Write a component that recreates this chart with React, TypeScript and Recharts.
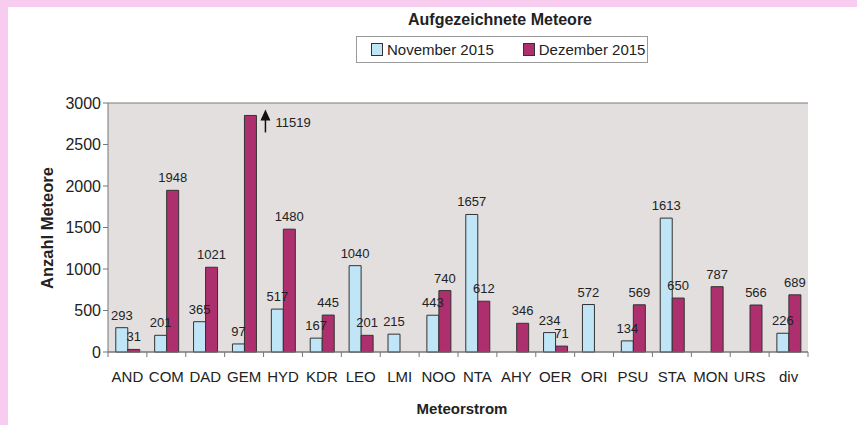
import { BarChart, Bar, XAxis, YAxis, CartesianGrid, LabelList } from 'recharts';

const streams = ['AND', 'COM', 'DAD', 'GEM', 'HYD', 'KDR', 'LEO', 'LMI', 'NOO', 'NTA', 'AHY', 'OER', 'ORI', 'PSU', 'STA', 'MON', 'URS', 'div'];
const november = [293, 201, 365, 97, 517, 167, 1040, 215, 443, 1657, null, 234, 572, 134, 1613, null, null, 226];
const dezember = [31, 1948, 1021, 11519, 1480, 445, 201, null, 740, 612, 346, 71, null, 569, 650, 787, 566, 689];
const yTicks = [0, 500, 1000, 1500, 2000, 2500, 3000];

// GEM is off the scale; the bar is cut just below the top and marked with an arrow
const CAP = 2850;

const data = streams.map((name, i) => ({
  name,
  nov: november[i],
  dez: dezember[i],
  dezShown: dezember[i] == null ? null : Math.min(dezember[i] as number, CAP),
}));

const FONT = '"Liberation Sans", Arial, sans-serif';
const BLUE = '#bfe5f7';
const RED = '#ad2f6e';

const XTick = (props: any) => {
  const { x, y, payload, index } = props;
  const half = payload?.offset || 700 / streams.length / 2;
  return (
    <g>
      <line x1={x - half} y1={y - 8} x2={x - half} y2={y - 3} stroke="#777" />
      {index === streams.length - 1 && (
        <line x1={x + half} y1={y - 8} x2={x + half} y2={y - 3} stroke="#777" />
      )}
      <text x={x} y={y + 22} textAnchor="middle" fontSize={15} fill="#222" fontFamily={FONT}>
        {payload.value}
      </text>
    </g>
  );
};

const NovLabel = (props: any) => {
  const { x, y, width, value } = props;
  if (value == null) return null;
  return (
    <text x={x + width / 2} y={y - 8} textAnchor="middle" fontSize={13} fill="#222" fontFamily={FONT}>
      {value}
    </text>
  );
};

const DezLabel = (props: any) => {
  const { x, y, width, value } = props;
  if (value == null) return null;
  if (value > CAP) {
    const ax = x + width + 9;
    return (
      <g>
        <line x1={ax} y1={y + 2} x2={ax} y2={y + 17} stroke="#111" strokeWidth={1.5} />
        <path d={`M${ax - 5},${y + 5} L${ax},${y - 6} L${ax + 5},${y + 5} Z`} fill="#111" />
        <text x={ax + 10} y={y + 12} fontSize={13} fill="#222" fontFamily={FONT}>
          {value}
        </text>
      </g>
    );
  }
  return (
    <text x={x + width / 2} y={y - 8} textAnchor="middle" fontSize={13} fill="#222" fontFamily={FONT}>
      {value}
    </text>
  );
};

const swatch = (color: string, ml: number) => (
  <span
    style={{
      display: 'inline-block', flexShrink: 0, width: 10, height: 11, background: color,
      border: '1px solid #333', marginLeft: ml, marginRight: 4,
    }}
  />
);

export default function App() {
  return (
    <div style={{ position: 'absolute', left: 0, top: 0, width: 857, height: 425, background: '#f8ccee', overflow: 'hidden' }}>
      <div style={{ position: 'absolute', left: 8, top: 7, right: 0, bottom: 0, background: '#ffffff' }} />
      <div
        style={{
          position: 'absolute', left: 300, top: 11, width: 400, textAlign: 'center',
          fontFamily: FONT, fontWeight: 'bold', fontSize: 16, color: '#222',
        }}
      >
        Aufgezeichnete Meteore
      </div>
      <div
        style={{
          position: 'absolute', left: 356, top: 36, width: 292, height: 27,
          border: '1px solid #999', background: '#fff', display: 'flex', alignItems: 'center',
          fontFamily: FONT, fontSize: 15, color: '#222', boxSizing: 'border-box', whiteSpace: 'nowrap',
        }}
      >
        {swatch(BLUE, 14)}
        <span>November 2015</span>
        {swatch(RED, 29)}
        <span>Dezember 2015</span>
      </div>
      <div
        style={{
          position: 'absolute', left: 47, top: 228, transform: 'translate(-50%, -50%) rotate(-90deg)',
          fontFamily: FONT, fontWeight: 'bold', fontSize: 16.5, color: '#222', whiteSpace: 'nowrap',
        }}
      >
        Anzahl Meteore
      </div>
      <div
        style={{
          position: 'absolute', left: 362, top: 400, width: 200, textAlign: 'center',
          fontFamily: FONT, fontWeight: 'bold', fontSize: 15, color: '#222',
        }}
      >
        Meteorstrom
      </div>
      <div style={{ position: 'absolute', left: 0, top: 0 }}>
        <BarChart
          width={857}
          height={425}
          data={data}
          margin={{ top: 103, right: 49, left: 48, bottom: 43 }}
          barCategoryGap="20%"
          barGap={0}
        >
          <CartesianGrid vertical={false} stroke="#7a7a7a" fill="#e3dfde" />
          <XAxis
            dataKey="name"
            interval={0}
            height={30}
            tickLine={false}
            axisLine={{ stroke: '#777' }}
            tick={<XTick />}
          />
          <YAxis
            yAxisId="left"
            width={60}
            domain={[0, 3000]}
            ticks={yTicks}
            axisLine={{ stroke: '#777' }}
            tickLine={{ stroke: '#777' }}
            tickSize={5}
            tick={{ fontSize: 16, fill: '#222', fontFamily: FONT }}
          />
          <YAxis
            yAxisId="right"
            orientation="right"
            width={0}
            domain={[0, 3000]}
            tick={false}
            tickLine={false}
            axisLine={{ stroke: '#777' }}
          />
          <Bar yAxisId="left" dataKey="nov" fill={BLUE} stroke="#333" strokeWidth={1} isAnimationActive={false}>
            <LabelList dataKey="nov" content={<NovLabel />} />
          </Bar>
          <Bar yAxisId="left" dataKey="dezShown" fill={RED} stroke="#333" strokeWidth={1} isAnimationActive={false}>
            <LabelList dataKey="dez" content={<DezLabel />} />
          </Bar>
        </BarChart>
      </div>
    </div>
  );
}
